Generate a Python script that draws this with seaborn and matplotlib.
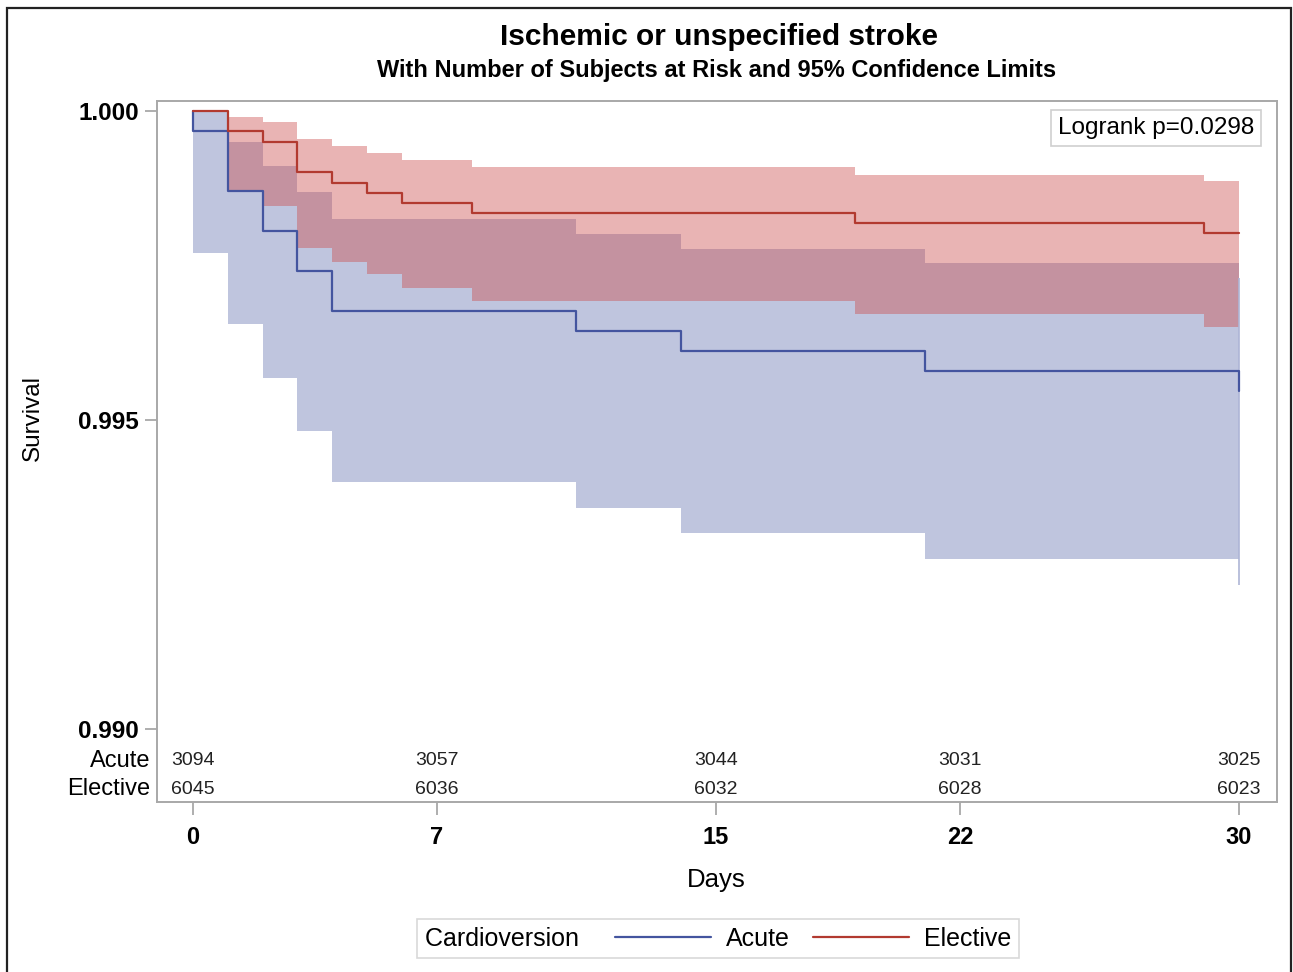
import numpy as np
import pandas as pd
import matplotlib
matplotlib.use("Agg")
import matplotlib.pyplot as plt
import seaborn as sns
from matplotlib.lines import Line2D
from matplotlib.patches import Rectangle


# ---------------------------------------------------------------------------
# Data
# ---------------------------------------------------------------------------

days_acute = [0, 0, 1, 2, 3, 4, 11, 14, 21, 30]
surv_acute = [1.0, 0.99968, 0.99871, 0.99806, 0.99741, 0.99677,
              0.99644, 0.99612, 0.99580, 0.99547]

band_days_acute = [0, 1, 2, 3, 4, 11, 14, 21, 30]
upper_acute = [1.0, 0.99950, 0.99911, 0.99869, 0.99825,
               0.99801, 0.99777, 0.99754, 0.99730]
lower_acute = [0.99770, 0.99656, 0.99568, 0.99483, 0.99399,
               0.99357, 0.99317, 0.99275, 0.99233]

days_elective = [0, 1, 2, 3, 4, 5, 6, 8, 19, 29, 30]
surv_elective = [1.0, 0.99967, 0.99950, 0.99901, 0.99884, 0.99868,
                 0.99851, 0.99835, 0.99818, 0.99802, 0.99802]
upper_elective = [1.0, 0.99991, 0.99983, 0.99955, 0.99943, 0.99932,
                  0.99921, 0.99909, 0.99896, 0.99886, 0.99886]
lower_elective = [1.0, 0.99872, 0.99846, 0.99778, 0.99755, 0.99737,
                  0.99714, 0.99693, 0.99672, 0.99650, 0.99650]

risk_days = [0, 7, 15, 22, 30]
at_risk_acute = [3094, 3057, 3044, 3031, 3025]
at_risk_elective = [6045, 6036, 6032, 6028, 6023]

groups = ["Acute", "Elective"]
line_colors = {"Acute": "#44559f", "Elective": "#b23a30"}

x_ticks = [0, 7, 15, 22, 30]
y_ticks = [0.990, 0.995, 1.000]

df = pd.concat([
    pd.DataFrame({"day": days_acute, "survival": surv_acute, "group": "Acute"}),
    pd.DataFrame({"day": days_elective, "survival": surv_elective, "group": "Elective"}),
], ignore_index=True)


# ---------------------------------------------------------------------------
# Figure
# ---------------------------------------------------------------------------

sns.set_theme(style="white")
plt.rcParams["font.family"] = ["Liberation Sans", "DejaVu Sans"]
plt.rcParams["text.color"] = "black"
plt.rcParams["axes.labelcolor"] = "black"
plt.rcParams["xtick.labelcolor"] = "black"
plt.rcParams["ytick.labelcolor"] = "black"

fig = plt.figure(figsize=(12.93, 9.72), dpi=100)
ax = fig.add_axes([0.1214, 0.1749, 0.8662, 0.7212])

# confidence bands
ax.fill_between(band_days_acute, lower_acute, upper_acute, step="post",
                color="#bfc5de", linewidth=0)
ax.vlines(band_days_acute[-1], lower_acute[-1], upper_acute[-1],
          color="#aeb5d6", linewidth=1.2)
ax.fill_between(days_elective, lower_elective, upper_elective, step="post",
                color="#cc4c4c", alpha=0.42, linewidth=0)

# survival curves
sns.lineplot(data=df, x="day", y="survival", hue="group", palette=line_colors,
             estimator=None, sort=False, drawstyle="steps-post",
             linewidth=1.6, legend=False, ax=ax)

ax.set_xlim(-1.03, 31.09)
ax.set_ylim(0.988819, 1.000162)
ax.set_xticks(x_ticks)
ax.set_xticklabels([str(t) for t in x_ticks], fontsize=17, fontweight="bold")
ax.set_yticks(y_ticks)
ax.set_yticklabels([f"{v:.3f}" for v in y_ticks], fontsize=17.5, fontweight="bold")
ax.tick_params(axis="both", length=9, width=1.3, color="#a8a8a8",
               direction="out", left=True, bottom=True)
ax.tick_params(axis="x", pad=8)
ax.tick_params(axis="y", pad=4)
for s in ax.spines.values():
    s.set_color("#a8a8a8")
    s.set_linewidth(1.4)

ax.set_xlabel("Days", fontsize=18.5)
ax.xaxis.set_label_coords(0.499, -0.111)
ax.xaxis.label.set_va("center")
ax.set_ylabel("Survival", fontsize=17.5)
ax.yaxis.set_label_coords(-0.1107, 0.548)
ax.yaxis.label.set_va("center")

# number at risk table (inside the axes)
tr = ax.get_xaxis_transform()
for label, counts, yy in [("Acute", at_risk_acute, 0.0585),
                          ("Elective", at_risk_elective, 0.0185)]:
    ax.text(-0.006, yy, label, transform=ax.transAxes, ha="right", va="center",
            fontsize=17)
    for d, n in zip(risk_days, counts):
        ax.text(d, yy, str(n), transform=tr, ha="center", va="center",
                fontsize=14, color="#222222")

# logrank p
ax.text(0.892, 0.9615, "Logrank p=0.0298", transform=ax.transAxes,
        ha="center", va="center", fontsize=17.5,
        bbox=dict(boxstyle="square,pad=0.28", fc="white", ec="#cfcfcf", lw=1.2))

# titles
fig.text(0.5557, 1 - 37 / 972, "Ischemic or unspecified stroke",
         ha="center", va="center", fontsize=21.5, fontweight="bold")
fig.text(0.5538, 1 - 71 / 972,
         "With Number of Subjects at Risk and 95% Confidence Limits",
         ha="center", va="center", fontsize=17, fontweight="bold")

# legend with title on the left
handles = [Line2D([], [], color=line_colors[g], linewidth=1.6) for g in groups]
leg = ax.legend(handles, groups, title="Cardioversion  ", ncol=2,
                loc="center", bbox_to_anchor=(0.5553, 0.034),
                bbox_transform=fig.transFigure, fontsize=18, title_fontsize=18,
                frameon=True, fancybox=False, edgecolor="#cfcfcf",
                handlelength=3.85, handletextpad=0.6, columnspacing=0.9,
                borderpad=0.3)
leg.get_frame().set_linewidth(1.2)
c = leg.get_children()[0]
title_box = c.get_children()[0]
hpack = c.get_children()[1]
c._children = [hpack]
hpack._children = [title_box] + hpack.get_children()

# outer frame
fig.patches.append(Rectangle((7 / 1293, -0.01), 1284 / 1293, 1.0018,
                             transform=fig.transFigure, fill=False,
                             edgecolor="#222222", linewidth=1.6))

fig.savefig("out.png", dpi=100)
